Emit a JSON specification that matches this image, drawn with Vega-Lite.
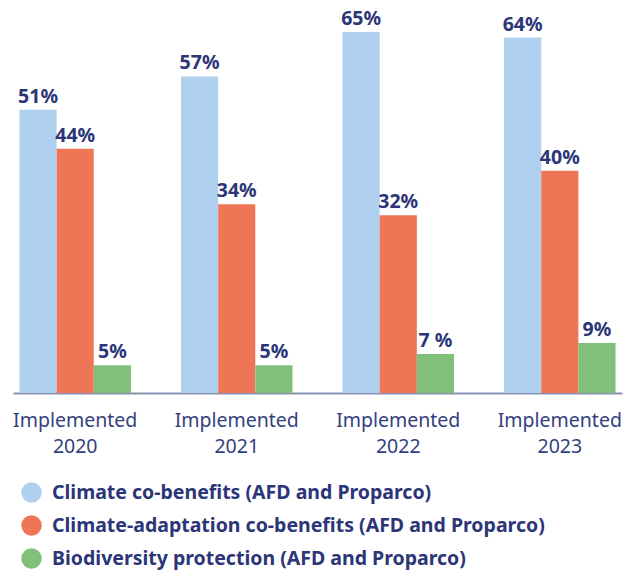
{
  "$schema": "https://vega.github.io/schema/vega-lite/v6.json",
  "autosize": "none",
  "width": 609,
  "height": 361,
  "padding": {"left": 13, "top": 32, "right": 11, "bottom": 178},
  "background": "white",
  "config": {"view": {"stroke": null}, "font": "Noto Sans"},
  "data": {"values": [
    {"year": "2020", "series": "Climate co-benefits (AFD and Proparco)", "order": 1, "value": 51, "label": "51%"},
    {"year": "2020", "series": "Climate-adaptation co-benefits (AFD and Proparco)", "order": 2, "value": 44, "label": "44%"},
    {"year": "2020", "series": "Biodiversity protection (AFD and Proparco)", "order": 3, "value": 5, "label": "5%"},
    {"year": "2021", "series": "Climate co-benefits (AFD and Proparco)", "order": 1, "value": 57, "label": "57%"},
    {"year": "2021", "series": "Climate-adaptation co-benefits (AFD and Proparco)", "order": 2, "value": 34, "label": "34%"},
    {"year": "2021", "series": "Biodiversity protection (AFD and Proparco)", "order": 3, "value": 5, "label": "5%"},
    {"year": "2022", "series": "Climate co-benefits (AFD and Proparco)", "order": 1, "value": 65, "label": "65%"},
    {"year": "2022", "series": "Climate-adaptation co-benefits (AFD and Proparco)", "order": 2, "value": 32, "label": "32%"},
    {"year": "2022", "series": "Biodiversity protection (AFD and Proparco)", "order": 3, "value": 7, "label": "7 %"},
    {"year": "2023", "series": "Climate co-benefits (AFD and Proparco)", "order": 1, "value": 64, "label": "64%"},
    {"year": "2023", "series": "Climate-adaptation co-benefits (AFD and Proparco)", "order": 2, "value": 40, "label": "40%"},
    {"year": "2023", "series": "Biodiversity protection (AFD and Proparco)", "order": 3, "value": 9, "label": "9%"}
  ]},
  "encoding": {
    "x": {
      "field": "year", "type": "nominal",
      "scale": {"paddingInner": 0.31, "paddingOuter": 0.04},
      "axis": {
        "title": null, "labelAngle": 0, "ticks": false,
        "domainColor": "#8a92b2", "domainWidth": 2,
        "labelExpr": "['Implemented', datum.label]",
        "labelFontSize": 19.5, "labelColor": "#34407e", "labelPadding": 18,
        "labelLineHeight": 26, "labelBaseline": "top"
      }
    },
    "xOffset": {"field": "order", "type": "ordinal", "scale": {"paddingInner": 0, "paddingOuter": 0}},
    "y": {"field": "value", "type": "quantitative", "scale": {"domain": [0, 65], "nice": false}, "axis": null}
  },
  "layer": [
    {
      "mark": {"type": "bar"},
      "encoding": {
        "color": {
          "field": "series", "type": "nominal",
          "sort": ["Climate co-benefits (AFD and Proparco)", "Climate-adaptation co-benefits (AFD and Proparco)", "Biodiversity protection (AFD and Proparco)"],
          "scale": {
            "domain": ["Climate co-benefits (AFD and Proparco)", "Climate-adaptation co-benefits (AFD and Proparco)", "Biodiversity protection (AFD and Proparco)"],
            "range": ["#b0d0ef", "#ee7656", "#80c07a"]
          },
          "legend": {
            "title": null, "orient": "none", "legendX": 8, "legendY": 450,
            "symbolType": "circle", "symbolSize": 420, "symbolStrokeWidth": 0,
            "labelFontSize": 19.5, "labelFontWeight": "bold", "labelColor": "#2b3577",
            "labelOffset": 10, "rowPadding": 12, "labelLimit": 620, "padding": 0
          }
        }
      }
    },
    {
      "mark": {"type": "text", "baseline": "alphabetic", "dy": -7, "fontSize": 19.5, "fontWeight": "bold", "color": "#2b3577"},
      "encoding": {"text": {"field": "label"}}
    }
  ]
}
